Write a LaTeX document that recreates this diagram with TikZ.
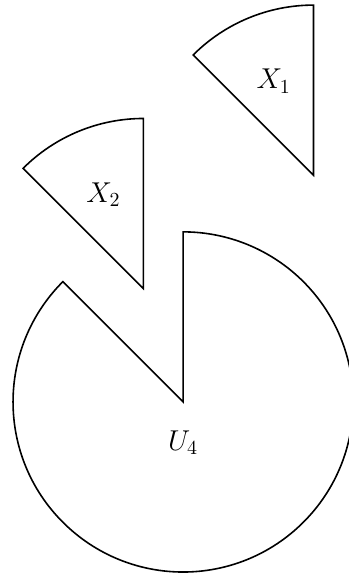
\documentclass[tikz,border=0pt]{standalone}
\usepackage{amsmath, amssymb}
\usepackage{tikz}
\usetikzlibrary{calc}

\begin{document}
\begin{tikzpicture}[every node/.style={font=\Large}]
  \useasboundingbox (-3.23,-3.07) rectangle (2.91,7.09);
  % Disk with the wedge removed
  \draw[thick] (0,0) -- (135:3) arc (135:450:3) -- cycle;
  \node (u4) at (0,-0.72) {$U_4$};
  % Removed wedge, moved away
  \draw[thick, shift={(-0.7,2)}] (0,0) -- (90:3) arc (90:135:3) -- cycle;
  \node (x2) at ($(-0.7,2)+(113:1.8)$) {$X_2$};
  % Second wedge
  \draw[thick, shift={(2.3,4)}] (0,0) -- (90:3) arc (90:135:3) -- cycle;
  \node (x1) at ($(2.3,4)+(113:1.8)$) {$X_1$};
\end{tikzpicture}
\end{document}
